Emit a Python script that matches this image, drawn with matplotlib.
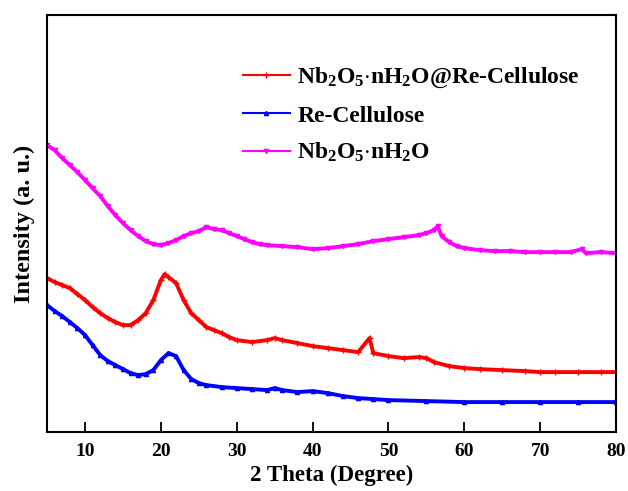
import matplotlib
matplotlib.use("Agg")
import matplotlib.pyplot as plt
import numpy as np

# readings (intensity in arbitrary units, baseline = bottom axis)
theta_nb = [5, 6, 7, 8, 9, 10, 11, 12, 13, 14, 15, 16, 17, 18, 19, 20, 21, 22, 23, 24,
            25, 26, 27, 28, 29, 30, 31, 32, 33, 34, 36, 38, 40, 42, 44, 46, 48, 50, 52, 54,
            55, 56, 56.5, 57, 58, 59, 60, 62, 64, 66, 68, 70, 72, 74, 75.5, 76, 78, 80]
inten_nb = [287, 282, 274, 267, 260, 252, 244, 236, 226, 217, 209, 202, 196, 191, 188, 187,
            189, 192, 196, 199, 201, 205, 203, 202, 199, 196, 193, 190, 188, 187, 186, 185,
            183, 184, 186, 188, 191, 193, 195, 197, 199, 202, 206, 196, 190, 186, 184, 182,
            181, 181, 180, 180, 180, 180, 183, 179, 180, 179]

theta_comp = [5, 6, 7, 8, 9, 10, 11, 12, 13, 14, 15, 16, 17, 18, 19, 20, 20.5, 21, 22, 23,
              24, 25, 26, 27, 28, 29, 30, 32, 34, 35, 36, 38, 40, 42, 44, 46, 47.5, 48, 50,
              52, 54, 55, 56, 58, 60, 62, 65, 68, 70, 72, 75, 78, 80]
inten_comp = [154, 150, 147, 144, 138, 132, 125, 119, 114, 110, 107, 107, 112, 119, 132,
              152, 158, 155, 149, 132, 119, 112, 105, 102, 99, 95, 92, 90, 92, 94, 92, 89,
              86, 84, 82, 80, 94, 79, 76, 74, 75, 74, 70, 66, 64, 63, 62, 61, 60, 60, 60,
              60, 60]

theta_cell = [5, 6, 7, 8, 9, 10, 11, 12, 13, 14, 15, 16, 17, 18, 19, 20, 21, 22, 23, 24,
              25, 26, 28, 30, 32, 34, 35, 36, 38, 40, 42, 44, 46, 48, 50, 55, 60, 65, 70,
              75, 80]
inten_cell = [127, 121, 116, 110, 104, 97, 87, 77, 71, 67, 63, 59, 57, 58, 62, 72, 79, 76,
              62, 53, 49, 47, 45, 44, 43, 42, 44, 42, 40, 41, 39, 36, 34, 33, 32, 31, 30,
              30, 30, 30, 30]

labels = [r'Nb$_\mathbf{2}$O$_\mathbf{5}$$\cdot$nH$_\mathbf{2}$O@Re-Cellulose',
          'Re-Cellulose',
          r'Nb$_\mathbf{2}$O$_\mathbf{5}$$\cdot$nH$_\mathbf{2}$O']

plt.rcParams['font.family'] = ['Liberation Serif', 'DejaVu Serif']
plt.rcParams['font.weight'] = 'bold'
plt.rcParams['mathtext.fontset'] = 'custom'
plt.rcParams['mathtext.rm'] = 'Liberation Serif:bold'
plt.rcParams['mathtext.bf'] = 'Liberation Serif:bold'
plt.rcParams['mathtext.default'] = 'bf'

fig = plt.figure(figsize=(6.28, 4.91), dpi=100)
ax = fig.add_axes([0.075, 0.12, 0.906, 0.849])

ax.plot(theta_comp, inten_comp, color='#ff0000', lw=2.8, marker='+', ms=5, label=labels[0])
ax.plot(theta_cell, inten_cell, color='#0000ff', lw=2.8, marker='^', ms=3, label=labels[1])
ax.plot(theta_nb, inten_nb, color='#ff00ff', lw=2.8, marker='v', ms=3, label=labels[2])

ax.set_xlim(5, 80)
ax.set_ylim(0, 417)
ax.set_xticks(np.arange(10, 81, 10))
ax.set_yticks([])
ax.tick_params(axis='x', direction='in', length=7, width=1.3, labelsize=14, pad=8)
for lbl in ax.get_xticklabels():
    lbl.set_fontweight('bold')
for sp in ax.spines.values():
    sp.set_linewidth(1.5)

ax.set_xlabel('2 Theta (Degree)', fontsize=16.5, fontweight='bold', labelpad=3)
ax.set_ylabel('Intensity (a. u.)', fontsize=17.5, fontweight='bold', labelpad=9)

leg = ax.legend(loc='upper left', bbox_to_anchor=(0.344, 0.878), frameon=False,
                fontsize=17, handlelength=2.0, handletextpad=0.3, labelspacing=0.62,
                borderaxespad=0, borderpad=0)
for t in leg.get_texts():
    t.set_fontweight('bold')
for h in leg.legend_handles:
    h.set_linewidth(1.5)

fig.savefig('out.png', dpi=100)
